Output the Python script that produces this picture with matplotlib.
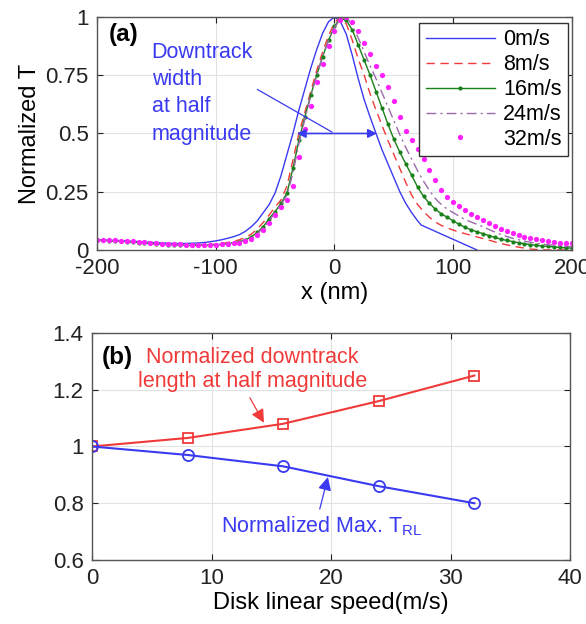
import numpy as np
import matplotlib; matplotlib.use("Agg")
import matplotlib.pyplot as plt

plt.rcParams["font.family"] = ["Liberation Sans", "DejaVu Sans"]
plt.rcParams["axes.unicode_minus"] = False

# (a) normalized temperature profiles, sampled every 5 nm
x_nm = list(range(-200, 205, 5))
x_0 = list(range(-200, 75, 5)) + [73, 120]
T_0 = [.043, .043, .042, .041, .040, .039, .037, .036, .034, .033, .031, .030, .029, .028, .028, .028, .029, .030, .032, .035,
       .039, .044, .050, .057, .066, .080, .100, .125, .160, .195, .245, .320, .410, .500, .600, .690, .780, .860, .930, .980,
       1.0, .980, .925, .835, .735, .645, .570, .500, .430, .370, .310, .250, .200, .160, .125,
       .107, 0.0]
T_8 = [.041, .041, .040, .039, .038, .036, .034, .032, .030, .028, .026, .025, .024, .023, .022, .021, .021, .021, .022, .023,
       .025, .028, .032, .037, .044, .054, .068, .090, .118, .150, .185, .215, .275, .385, .500, .590, .680, .770, .850, .920,
       .975, 1.0, .970, .900, .820, .750, .670, .600, .535, .470, .410, .350, .290, .235, .195, .165, .140, .120, .105, .095,
       .085, .077, .070, .063, .056, .049, .042, .035, .028, .022, .017, .012, .008, .004, .002, .001, 0, 0, 0, 0, 0]
T_16 = [.041, .041, .040, .039, .038, .036, .034, .032, .030, .028, .026, .024, .023, .022, .021, .020, .020, .020, .020, .021,
        .022, .024, .027, .031, .036, .044, .056, .075, .100, .135, .165, .200, .245, .350, .470, .570, .665, .750, .830, .900,
        .960, .995, .985, .945, .880, .815, .750, .680, .610, .540, .475, .420, .370, .320, .270, .230, .200, .175, .155, .140,
        .125, .110, .097, .087, .078, .070, .062, .054, .047, .041, .036, .031, .027, .023, .020, .017, .015, .013, .011, .009, .008]
T_24 = [.041, .041, .040, .039, .038, .036, .034, .032, .030, .028, .026, .024, .023, .022, .021, .020, .020, .020, .020, .021,
        .022, .024, .026, .030, .035, .042, .053, .070, .095, .125, .160, .195, .235, .330, .455, .560, .660, .750, .830, .900,
        .955, .990, 1.0, .965, .910, .850, .790, .735, .675, .615, .555, .495, .440, .390, .340, .295, .255, .220, .195, .175,
        .160, .145, .130, .120, .110, .100, .088, .077, .067, .058, .050, .044, .038, .033, .029, .025, .022, .020, .018, .016, .014]
T_32 = [.042, .042, .042, .041, .040, .039, .037, .035, .033, .031, .029, .027, .026, .025, .024, .023, .022, .022, .022, .022,
        .023, .024, .026, .028, .031, .037, .047, .063, .086, .115, .150, .185, .215, .275, .400, .520, .620, .720, .800, .875,
        .940, .985, 1.0, .980, .940, .890, .840, .790, .750, .700, .640, .570, .510, .470, .435, .390, .345, .300, .258, .228,
        .205, .188, .170, .155, .142, .130, .115, .102, .090, .080, .072, .064, .057, .051, .046, .042, .038, .035, .032, .030, .029]

# (b) versus disk speed
speed = [0, 8, 16, 24, 32]
width_norm = [1.0, 1.03, 1.08, 1.16, 1.25]
tmax_norm = [1.0, 0.97, 0.93, 0.86, 0.80]

BLUE, RED, GREEN, PURPLE, MAG = "#3a3af0", "#f03a3a", "#1a801a", "#9a6aaa", "#ff22ff"
TICK_FS, LAB_FS, TXT_FS = 16, 17, 15.5

fig = plt.figure(figsize=(5.86, 6.24), dpi=100)
ax = fig.add_axes([0.1655, 0.5994, 0.8106, 0.3734])
bx = fig.add_axes([0.157, 0.1026, 0.8157, 0.3638])

ax.plot(x_0, T_0, color=BLUE, lw=1.0, label="0m/s")
ax.plot(x_nm, T_8, color=RED, lw=1.0, ls=(0, (6, 4)), label="8m/s")
ax.plot(x_nm, T_16, color=GREEN, lw=1.0, marker="o", ms=3, mec="none", label="16m/s")
ax.plot(x_nm, T_24, color=PURPLE, lw=1.0, ls=(0, (7, 3, 1.5, 3)), label="24m/s")
ax.plot(x_nm, T_32, color=MAG, ls="none", marker="o", ms=3.8, mec="none", label="32m/s")
ax.set_xlim(-200, 200); ax.set_ylim(0, 1)
ax.set_xticks([-200, -100, 0, 100, 200])
ax.set_yticks([0, 0.25, 0.5, 0.75, 1]); ax.set_yticklabels(["0", "0.25", "0.5", "0.75", "1"])
ax.set_xlabel("x (nm)", fontsize=LAB_FS, labelpad=2)
ax.set_ylabel("Normalized T", fontsize=LAB_FS, labelpad=3)
ax.text(-190, 0.925, "(a)", fontsize=17.5, fontweight="bold", va="center")
ax.text(-154, 0.672, "Downtrack\nwidth\nat half\nmagnitude", color=BLUE, fontsize=TXT_FS, va="center", linespacing=1.38)
ax.annotate("", xy=(-34, 0.5), xytext=(38, 0.5),
            arrowprops=dict(arrowstyle="<|-|>", color=BLUE, lw=1.2, mutation_scale=13))
ax.annotate("", xy=(0, 0.5), xytext=(-67, 0.695), arrowprops=dict(arrowstyle="-", color=BLUE, lw=0.9))
leg = ax.legend(loc="upper right", bbox_to_anchor=(0.992, 0.974), borderaxespad=0, fontsize=TXT_FS,
                handlelength=3.2, fancybox=False, framealpha=1, edgecolor="#333333",
                labelspacing=0.18, borderpad=0.3, handletextpad=0.4)
leg.get_frame().set_linewidth(1.0)

bx.plot(speed, width_norm, color=RED, lw=1.5, marker="s", ms=7, mfc="none", mew=1.3)
bx.plot(speed, tmax_norm, color=BLUE, lw=1.5, marker="o", ms=8, mfc="none", mew=1.3)
bx.set_xlim(0, 40); bx.set_ylim(0.6, 1.4)
bx.set_xticks([0, 10, 20, 30, 40])
bx.set_yticks([0.6, 0.8, 1.0, 1.2, 1.4]); bx.set_yticklabels(["0.6", "0.8", "1", "1.2", "1.4"])
bx.set_xlabel("Disk linear speed(m/s)", fontsize=LAB_FS, labelpad=2)
bx.text(0.8, 1.315, "(b)", fontsize=17.5, fontweight="bold", va="center")
bx.text(13.4, 1.27, "Normalized downtrack\nlength at half magnitude", color=RED, fontsize=TXT_FS,
        ha="center", va="center", linespacing=1.2)
bx.annotate("", xy=(14.5, 1.075), xytext=(13.1, 1.18),
            arrowprops=dict(arrowstyle="-|>", color=RED, lw=0.9, mutation_scale=20))
bx.text(19.2, 0.72, "Normalized Max. T$_{\\mathregular{RL}}$", color=BLUE, fontsize=TXT_FS, ha="center", va="center")
bx.annotate("", xy=(19.8, 0.902), xytext=(19.0, 0.77),
            arrowprops=dict(arrowstyle="-|>", color=BLUE, lw=0.9, mutation_scale=20))

for a in (ax, bx):
    a.grid(True, color="#e2e2e2", lw=0.8)
    a.set_axisbelow(True)
    a.tick_params(direction="in", top=True, right=True, labelsize=TICK_FS, colors="#222222", length=4, pad=6)
    for s in a.spines.values():
        s.set_color("#555555"); s.set_linewidth(1.0)

fig.savefig("out.png", dpi=100)
